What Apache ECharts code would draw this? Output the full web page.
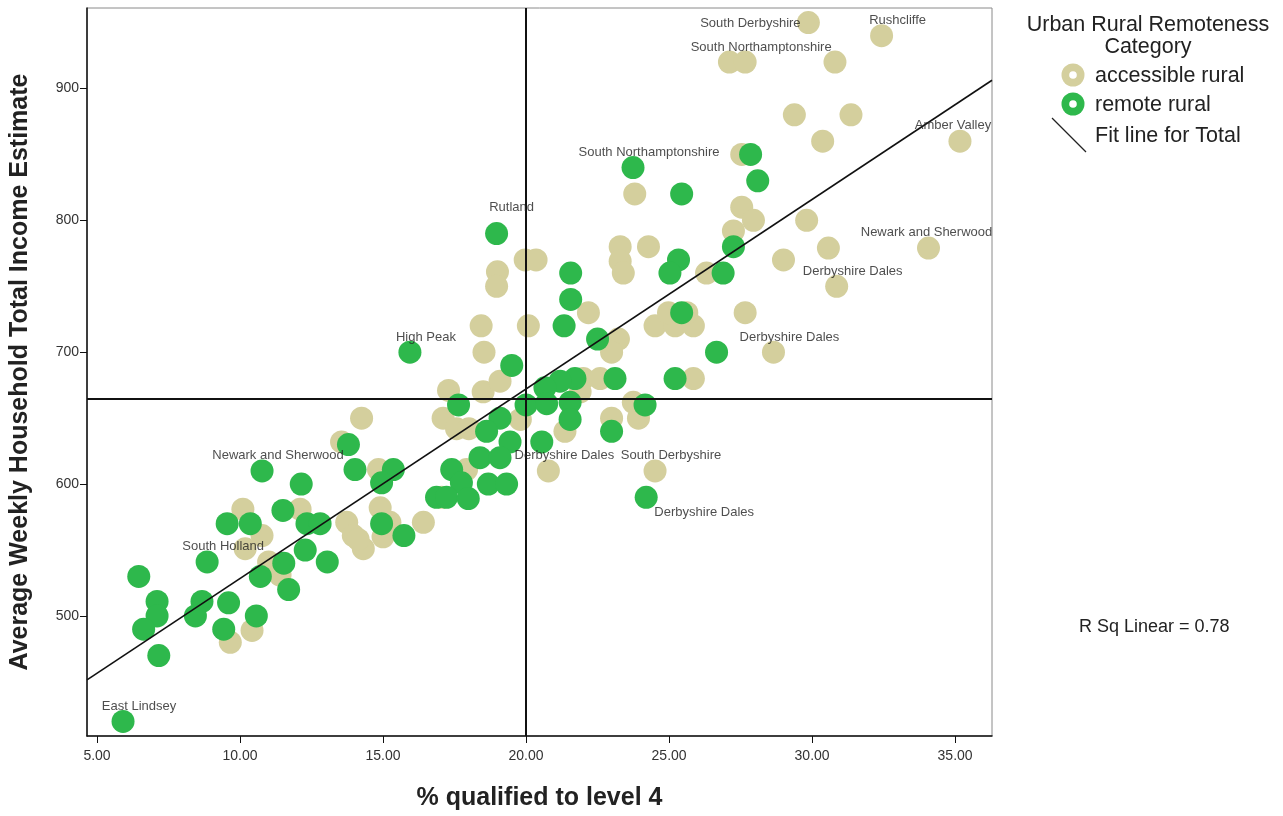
<!DOCTYPE html>
<html><head><meta charset="utf-8">
<script src="https://cdn.jsdelivr.net/npm/echarts@6/dist/echarts.min.js"></script>
<style>html,body{margin:0;padding:0;background:#fff}#c{width:1283px;height:816px}</style>
</head><body><div id="c"></div>
<script>
// ---- data ----
const xTicks = [5, 10, 15, 20, 25, 30, 35];
const yTicks = [500, 600, 700, 800, 900];
const categories = ['accessible rural', 'remote rural'];

// [ % qualified to level 4, avg weekly household income, optional district label ]
const accessibleRural = [
  [10.10,581],[12.10,581],[10.77,561],[10.18,551],[11.00,541],[11.40,531],[10.42,489],[9.66,480],
  [17.29,671],[18.50,670],[19.09,678],[14.25,650],[17.10,650],[17.57,642],[18.00,642],[19.80,649],
  [13.55,632],[14.84,611],[17.92,611],[17.05,590],[14.90,582],[13.73,571],[13.96,561],[15.24,571],
  [15.00,560],[14.31,551],[16.41,571],[14.13,558],
  [19.97,770],[20.35,770],[19.00,761],[18.97,750],[18.43,720],[20.08,720],[18.53,700],
  [23.80,820],[27.54,810],[27.95,800],[27.25,792],[23.29,780],[24.28,780],[23.29,769],[23.40,760],
  [26.31,760],[29.00,770],[22.18,730],[24.51,720],[25.21,720],[25.85,720],[25.62,730],[24.98,730],
  [27.66,730],[23.23,710],[22.99,700],[28.65,700,'Derbyshire Dales'],[22.00,680],[22.59,680],
  [25.85,680],[23.75,662],[23.93,650],[22.99,650],[21.36,640],[21.89,670],
  [20.78,610,'Derbyshire Dales'],[24.51,610,'South Derbyshire'],
  [29.87,950,'South Derbyshire'],[32.43,940,'Rushcliffe'],[27.11,920],[27.66,920,'South Northamptonshire'],
  [30.80,920],[29.38,880],[31.36,880],[30.37,860],[35.17,860,'Amber Valley'],[27.54,850],[29.81,800],
  [30.57,779],[34.07,779,'Newark and Sherwood'],[30.86,750,'Derbyshire Dales']
];
const remoteRural = [
  [5.91,420,'East Lindsey'],[6.46,530],[10.77,610,'Newark and Sherwood'],[12.14,600],[11.50,580],
  [12.34,570],[9.55,570],[10.36,570],[12.28,550],[8.85,541,'South Holland'],[11.53,540],[10.71,530],
  [7.10,511],[8.67,511],[9.60,510],[7.10,500],[8.44,500],[6.63,490],[9.43,490],[10.57,500],[7.16,470],
  [11.70,520],
  [17.64,660],[19.09,650],[18.62,640],[19.44,632],[13.79,630],[18.39,620],[19.09,620],[14.02,611],
  [15.36,611],[17.40,611],[14.95,601],[17.74,601],[18.68,600],[19.32,600],[16.87,590],[17.22,590],
  [17.98,589],[12.80,570],[14.95,570],[15.73,561],[13.05,541],
  [18.97,790,'Rutland'],[15.94,700,'High Peak'],[19.50,690],
  [25.44,820],[21.56,760],[21.56,740],[21.33,720],[22.50,710],[25.33,770],[25.03,760],[26.89,760],
  [27.25,780],[25.44,730],[26.66,700],[23.11,680],[25.21,680],[21.71,680],[21.19,678],[20.66,673],
  [24.16,660],[21.54,662],[21.54,649],[22.99,640],[20.55,632],[20.00,660],[20.72,661],
  [24.20,590,'Derbyshire Dales'],[27.85,850],[28.10,830],[23.74,840,'South Northamptonshire']
];
const meanX = 20.0;
const meanY = 665;
const fitIntercept = 384.7;
const fitSlope = 14.37;
const rSquared = 0.78;
const xRange = [4.65, 36.29];
const yRange = [409, 961];

// ---- styling ----
const TAN = '#D4CF9D';
const GREEN = '#2EB84C';
const FONT = 'Liberation Sans, Arial, sans-serif';
const labelOffsetDefault = [16, -15];
const labelOffsetOverrides = {
  'South Derbyshire@29.87': [-58, 1],
  'Amber Valley@35.17': [-7, -16],
  'Newark and Sherwood@34.07': [-2, -16],
  'Rutland@18.97': [15, -26],
  'Derbyshire Dales@24.2': [58, 15]
};

const labelled = accessibleRural.concat(remoteRural).filter(d => d.length > 2).map(d => ({
  value: [d[0], d[1]],
  label: {
    show: true,
    position: 'inside',
    formatter: d[2],
    offset: labelOffsetOverrides[d[2] + '@' + d[0]] || labelOffsetDefault
  }
}));

const fitData = xRange.map(x => [x, fitIntercept + fitSlope * x]);

const chart = echarts.init(document.getElementById('c'), null, {renderer: 'canvas'});
chart.setOption({
  animation: false,
  backgroundColor: '#fff',
  textStyle: {fontFamily: FONT},
  grid: {left: 87, top: 8, width: 905, height: 729, show: true, borderColor: '#8a8a8a', borderWidth: 1, backgroundColor: 'transparent'},
  xAxis: {
    type: 'value', min: xRange[0], max: xRange[1],
    name: '% qualified to level 4', nameLocation: 'middle', nameGap: 50,
    nameTextStyle: {fontSize: 25, fontWeight: 'bold', color: '#222', fontFamily: FONT},
    axisLine: {show: true, onZero: false, lineStyle: {color: '#111', width: 1.5}},
    axisTick: {show: true, length: 7, customValues: xTicks, lineStyle: {color: '#111'}},
    axisLabel: {customValues: xTicks, formatter: v => v.toFixed(2), fontSize: 14, color: '#333', margin: 13, fontFamily: FONT},
    splitLine: {show: false}
  },
  yAxis: {
    type: 'value', min: yRange[0], max: yRange[1],
    name: 'Average Weekly Household Total Income Estimate', nameLocation: 'middle', nameGap: 54,
    nameTextStyle: {fontSize: 25, fontWeight: 'bold', color: '#222', fontFamily: FONT},
    axisLine: {show: true, onZero: false, lineStyle: {color: '#111', width: 1.5}},
    axisTick: {show: true, length: 7, customValues: yTicks, lineStyle: {color: '#111'}},
    axisLabel: {customValues: yTicks, fontSize: 14, color: '#333', margin: 8, fontFamily: FONT},
    splitLine: {show: false}
  },
  series: [
    {name: categories[0], type: 'scatter', z: 2, symbolSize: 23, itemStyle: {color: TAN, opacity: 1},
     data: accessibleRural.map(d => [d[0], d[1]]), silent: true},
    {name: categories[1], type: 'scatter', z: 3, symbolSize: 23, itemStyle: {color: GREEN, opacity: 1},
     data: remoteRural.map(d => [d[0], d[1]]), silent: true},
    {name: 'Fit line for Total', type: 'line', z: 4, data: fitData, showSymbol: false, silent: true,
     lineStyle: {color: '#111', width: 1.6},
     markLine: {silent: true, symbol: 'none', label: {show: false},
       lineStyle: {color: '#111', width: 2, type: 'solid'},
       data: [{xAxis: meanX}, {yAxis: meanY}]}},
    {name: 'labels', type: 'scatter', z: 5, symbolSize: 0, itemStyle: {color: 'transparent'}, silent: true,
     label: {fontSize: 13, color: '#222', fontFamily: FONT}, data: labelled}
  ],
  graphic: [
    {type: 'text', x: 1148, y: 25, style: {text: 'Urban Rural Remoteness', font: '21.5px ' + FONT, fill: '#222', align: 'center', verticalAlign: 'middle'}},
    {type: 'text', x: 1148, y: 47, style: {text: 'Category', font: '21.5px ' + FONT, fill: '#222', align: 'center', verticalAlign: 'middle'}},
    {type: 'circle', shape: {cx: 1073, cy: 75, r: 11.5}, style: {fill: TAN}},
    {type: 'circle', shape: {cx: 1073, cy: 75, r: 3.8}, style: {fill: '#fff'}},
    {type: 'circle', shape: {cx: 1073, cy: 104, r: 11.5}, style: {fill: GREEN}},
    {type: 'circle', shape: {cx: 1073, cy: 104, r: 3.8}, style: {fill: '#fff'}},
    {type: 'line', shape: {x1: 1052, y1: 118, x2: 1086, y2: 152}, style: {stroke: '#222', lineWidth: 1.3}},
    {type: 'text', x: 1095, y: 76, style: {text: categories[0], font: '21.5px ' + FONT, fill: '#222', verticalAlign: 'middle'}},
    {type: 'text', x: 1095, y: 105, style: {text: categories[1], font: '21.5px ' + FONT, fill: '#222', verticalAlign: 'middle'}},
    {type: 'text', x: 1095, y: 136, style: {text: 'Fit line for Total', font: '21.5px ' + FONT, fill: '#222', verticalAlign: 'middle'}},
    {type: 'text', x: 1079, y: 627, style: {text: 'R Sq Linear = ' + rSquared.toFixed(2), font: '18px ' + FONT, fill: '#222', verticalAlign: 'middle'}}
  ]
});
</script>
</body></html>
